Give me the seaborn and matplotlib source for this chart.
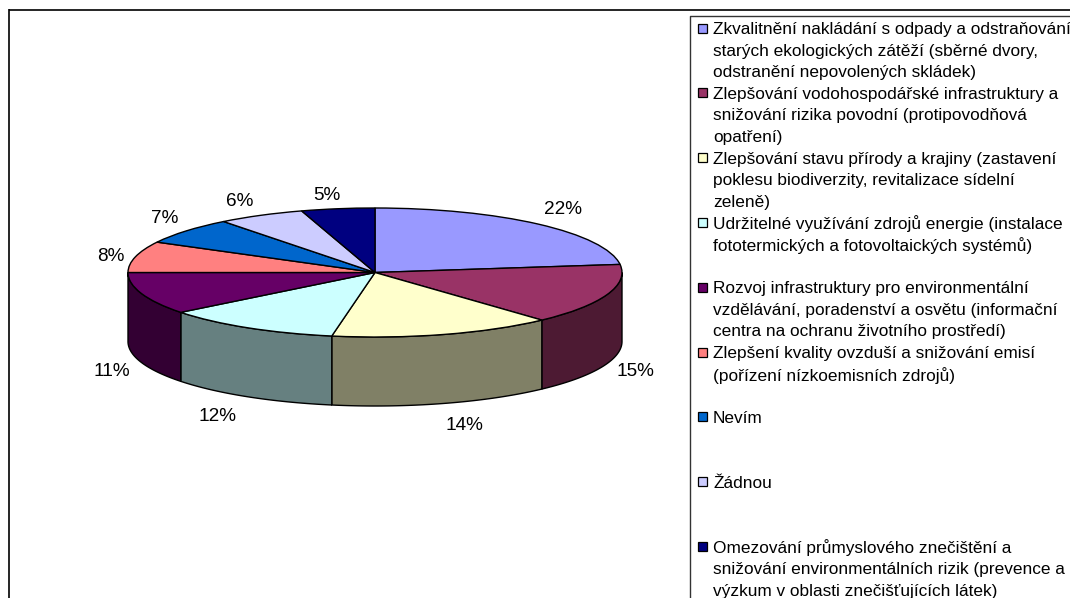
import numpy as np
import matplotlib
matplotlib.use("Agg")
import matplotlib.pyplot as plt
import seaborn as sns
from matplotlib.patches import Rectangle

wedge_sizes = [23.0, 15.2, 14.6, 11.6, 10.6, 7.8, 6.7, 5.7, 4.8]
percent_labels = [22, 15, 14, 12, 11, 8, 7, 6, 5]
colors = ["#9999FF", "#993366", "#FFFFCC", "#CCFFFF", "#660066",
          "#FF8080", "#0066CC", "#CCCCFF", "#000080"]

legend_lines = [
    ["Zkvalitnění nakládání s odpady a odstraňování",
     "starých ekologických zátěží (sběrné dvory,",
     "odstranění nepovolených skládek)"],
    ["Zlepšování vodohospodářské infrastruktury a",
     "snižování rizika povodní (protipovodňová",
     "opatření)"],
    ["Zlepšování stavu přírody a krajiny (zastavení",
     "poklesu biodiverzity, revitalizace sídelní",
     "zeleně)"],
    ["Udržitelné využívání zdrojů energie (instalace",
     "fototermických a fotovoltaických systémů)"],
    ["Rozvoj infrastruktury pro environmentální",
     "vzdělávání, poradenství a osvětu (informační",
     "centra na ochranu životního prostředí)"],
    ["Zlepšení kvality ovzduší a snižování emisí",
     "(pořízení nízkoemisních zdrojů)"],
    ["Nevím"],
    ["Žádnou"],
    ["Omezování průmyslového znečištění a",
     "snižování environmentálních rizik (prevence a",
     "výzkum v oblasti znečišťujících látek)"],
]
# Legend row on which each entry starts
legend_rows = [0, 3, 6, 9, 12, 15, 18, 21, 24]

# Layout, in pixels of the 1070x598 picture
W, H = 1070, 598
CX_L, CX_R, TOP, BOTTOM = 128, 622, 208, 337
DEPTH = 69
label_offsets = [(25, -15), (29, 77), (21, 91), (-30, 89), (-30, 78),
                 (-25, 0), (-21, -12), (-21, -14), (-11, -13)]

sns.set_theme(style="white")
plt.rcParams["font.family"] = ["Liberation Sans", "DejaVu Sans"]

fig = plt.figure(figsize=(W / 100, H / 100), dpi=100, facecolor="white")

# Pie top face: a unit circle squeezed by the axes box
ax = fig.add_axes([CX_L / W, 1 - BOTTOM / H, (CX_R - CX_L) / W, (BOTTOM - TOP) / H])
palette = sns.color_palette(colors)
ax.pie(wedge_sizes, colors=palette, startangle=90, counterclock=False, radius=1,
       wedgeprops={"edgecolor": "black", "linewidth": 1.0, "clip_on": False, "zorder": 3})
ax.set_aspect("auto")
ax.set_xlim(-1, 1)
ax.set_ylim(-1, 1)
ax.axis("off")

# Side wall: only the part of each wedge on the front half of the rim
cum = np.cumsum([0] + wedge_sizes) / sum(wedge_sizes) * 360
depth_units = DEPTH / ((BOTTOM - TOP) / 2)
for start, end, col in zip(cum[:-1], cum[1:], palette):
    a, b = max(start, 90), min(end, 270)
    if b <= a:
        continue
    t = np.radians(np.linspace(a, b, 60))
    x, y = np.sin(t), np.cos(t)
    dark = tuple(c * 0.5 for c in col)
    ax.fill(np.r_[x, x[::-1]], np.r_[y, y[::-1] - depth_units], facecolor=dark,
            edgecolor="black", linewidth=1.0, clip_on=False, zorder=2)

# Percent labels, anchored on the rim at the middle of each wedge
for start, end, val, off in zip(cum[:-1], cum[1:], percent_labels, label_offsets):
    mid = np.radians((start + end) / 2)
    ax.annotate(f"{val}%", xy=(np.sin(mid), np.cos(mid)),
                xytext=(off[0], -off[1]), textcoords="offset pixels",
                ha="center", va="center", fontsize=13.7, color="black",
                annotation_clip=False, zorder=5)

# Overlay in picture pixels for the chart frame and the legend
over = fig.add_axes([0, 0, 1, 1], zorder=5)
over.set_xlim(0, W)
over.set_ylim(H, 0)
over.axis("off")
over.plot([9, W], [9.5, 9.5], color="black", lw=1.2, solid_capstyle="butt")
over.plot([9, 9], [9, H], color="black", lw=1.2, solid_capstyle="butt")
over.plot([690, 690, W], [H, 16, 16], color="#333333", lw=1.0)

ROW0, PITCH = 28, 21.6
for lines, row, col in zip(legend_lines, legend_rows, palette):
    y0 = ROW0 + row * PITCH
    over.add_patch(Rectangle((697.5, y0 - 4.5), 9, 9, facecolor=col, edgecolor="black", lw=0.9))
    for i, line in enumerate(lines):
        over.text(713, y0 + i * PITCH, line, fontsize=12.4, color="black",
                  ha="left", va="center_baseline", clip_on=False)

fig.savefig("out.png", dpi=100)
